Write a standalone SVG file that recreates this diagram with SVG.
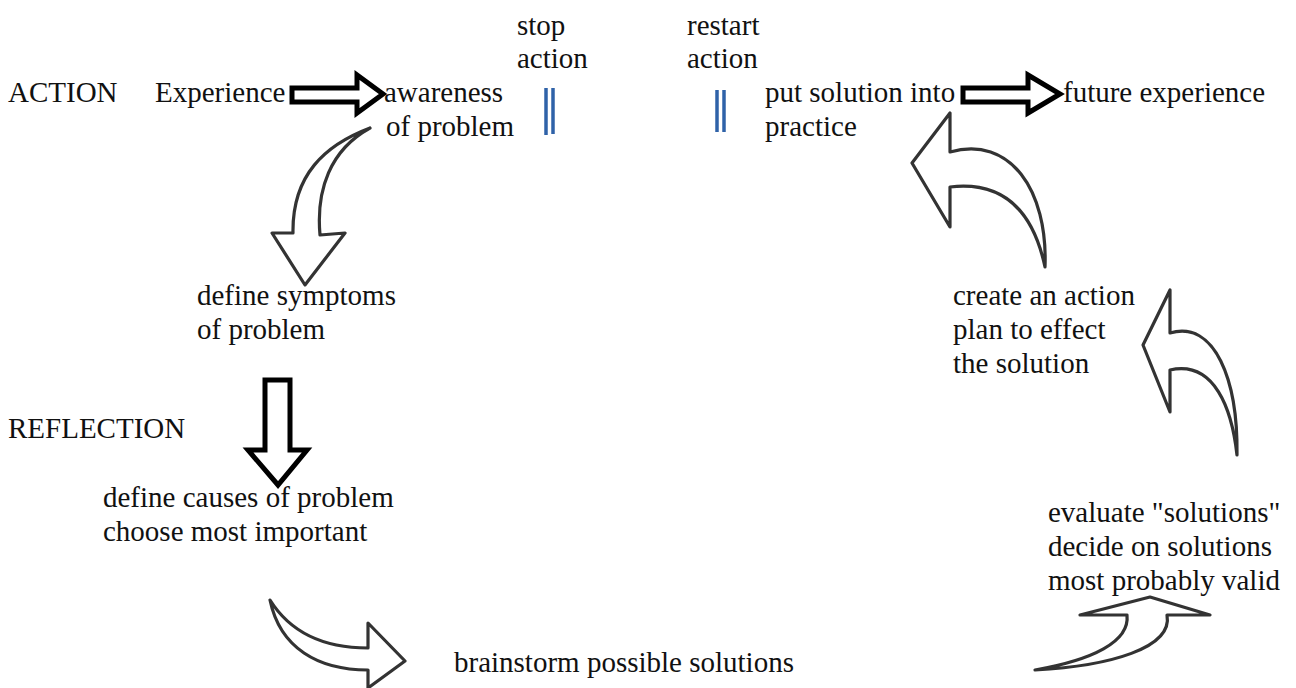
<svg xmlns="http://www.w3.org/2000/svg" width="1296" height="688" viewBox="0 0 1296 688">
  <style>
    text { font-family: "Liberation Serif", "Times New Roman", serif; font-size: 29px; fill: #111; }
    .block { fill: #fff; stroke: #000; stroke-width: 5; stroke-linejoin: miter; }
    .curve { fill: #fff; stroke: #333; stroke-width: 3.2; stroke-linejoin: round; }
    .bar { stroke: #2f62a8; stroke-width: 3.5; }
  </style>
  <rect width="1296" height="688" fill="#fff"/>

  <!-- row labels -->
  <g id="label-action"><text x="8" y="102">ACTION</text></g>
  <g id="label-reflection"><text x="8" y="438">REFLECTION</text></g>

  <!-- nodes -->
  <g id="experience"><text x="155" y="102">Experience</text></g>
  <g id="awareness"><text x="384" y="102">awareness</text><text x="386" y="136">of problem</text></g>
  <g id="stop-action"><text x="517" y="35">stop</text><text x="517" y="68">action</text></g>
  <g id="restart-action"><text x="687" y="35">restart</text><text x="687" y="68">action</text></g>
  <g id="put-into-practice"><text x="765" y="102">put solution into</text><text x="765" y="136">practice</text></g>
  <g id="future-experience"><text x="1063" y="102">future experience</text></g>
  <g id="define-symptoms"><text x="197" y="305">define symptoms</text><text x="197" y="339">of problem</text></g>
  <g id="define-causes"><text x="103" y="507">define causes of problem</text><text x="103" y="541">choose most important</text></g>
  <g id="brainstorm"><text x="454" y="672">brainstorm possible solutions</text></g>
  <g id="evaluate"><text x="1048" y="522">evaluate "solutions"</text><text x="1048" y="556">decide on solutions</text><text x="1048" y="590">most probably valid</text></g>
  <g id="action-plan"><text x="953" y="305">create an action</text><text x="953" y="339">plan to effect</text><text x="953" y="373">the solution</text></g>

  <!-- connectors -->
  <g id="connectors">
    <!-- block arrows along the action row -->
    <path class="block" d="M292,88 L357,88 L357,75 L383,94 L357,113 L357,102 L292,102 Z"/>
    <path class="block" d="M963,88 L1028,88 L1028,75 L1060,94 L1028,113 L1028,102 L963,102 Z"/>
    <!-- straight down arrow -->
    <path class="block" d="M265,380 L290,380 L290,450 L307,450 L278,485 L248,450 L265,450 Z"/>

    <!-- curved arrows round the cycle -->
    <path class="curve" d="M370,128 C325,145 292,175 293,233 L272,233 L305,285 L345,233 L320,235 C316,190 330,150 370,128 Z"/>
    <path class="curve" d="M270,600 C290,632 322,648 368,648 L368,623 L405,661 L368,688 L368,670 C318,670 280,648 270,600 Z"/>
    <path class="curve" d="M1035,670 C1092,660 1130,642 1127,615 L1080,615 L1150,597 L1210,615 L1167,615 C1173,648 1110,666 1035,670 Z"/>
    <path class="curve" d="M1170,290 L1170,333 C1215,320 1238,380 1237,455 C1232,410 1215,360 1170,370 L1170,412 L1143,345 Z"/>
    <path class="curve" d="M950,113 L950,152 C1010,135 1048,190 1045,267 C1035,220 1010,180 950,187 L950,227 L912,163 Z"/>

    <!-- pause markers -->
    <line class="bar" x1="546" y1="88" x2="546" y2="135"/>
    <line class="bar" x1="553" y1="88" x2="553" y2="134"/>
    <line class="bar" x1="717" y1="90" x2="717" y2="132"/>
    <line class="bar" x1="724" y1="90" x2="724" y2="132"/>
  </g>
</svg>
